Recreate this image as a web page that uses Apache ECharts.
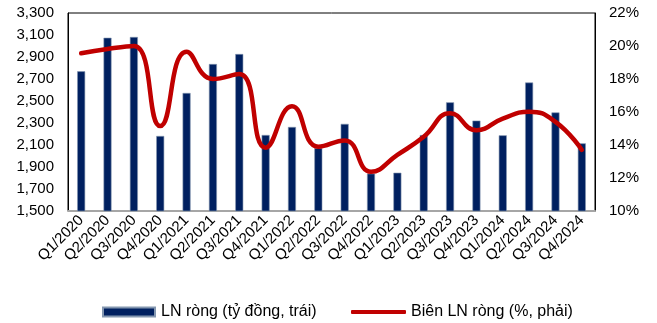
<!DOCTYPE html>
<html>
<head>
<meta charset="utf-8">
<script src="https://cdn.jsdelivr.net/npm/echarts@6/dist/echarts.min.js"></script>
<style>
  html, body { margin: 0; padding: 0; background: #fff; }
  #chart { width: 657px; height: 323px; }
</style>
</head>
<body>
<div id="chart"></div>
<script>
// Quarterly net profit (billion VND, left axis) and net margin (%, right axis)
const quarters = [
  'Q1/2020', 'Q2/2020', 'Q3/2020', 'Q4/2020',
  'Q1/2021', 'Q2/2021', 'Q3/2021', 'Q4/2021',
  'Q1/2022', 'Q2/2022', 'Q3/2022', 'Q4/2022',
  'Q1/2023', 'Q2/2023', 'Q3/2023', 'Q4/2023',
  'Q1/2024', 'Q2/2024', 'Q3/2024', 'Q4/2024'
];
const netProfit = [
  2770, 3075, 3082, 2182,
  2573, 2836, 2927, 2191,
  2264, 2072, 2292, 1840,
  1848, 2190, 2488, 2322,
  2188, 2668, 2396, 2115
];
const netMargin = [
  19.56, 19.82, 20.0, 15.15,
  19.65, 18.0, 18.3, 13.84,
  16.35, 13.9, 14.28, 12.38,
  13.4, 14.5, 15.92, 14.9,
  15.6, 16.02, 15.4, 13.7
];
const profitName = 'LN ròng (tỷ đồng, trái)';
const marginName = 'Biên LN ròng (%, phải)';

const FONT = 'Liberation Sans, Arial, sans-serif';
const chart = echarts.init(document.getElementById('chart'));

chart.setOption({
  animation: false,
  textStyle: { fontFamily: FONT, color: '#000' },
  grid: {
    left: 68, right: 62, top: 13, bottom: 112,
    show: true, borderColor: '#000', borderWidth: 1
  },
  legend: [
    {
      left: 97, top: 299,
      itemWidth: 52, itemHeight: 9,
      textStyle: { fontFamily: FONT, fontSize: 16, color: '#000', padding: [0, 0, 0, 1] },
      data: [{ name: profitName, icon: 'rect' }]
    },
    {
      left: 346, top: 299,
      itemWidth: 55, itemHeight: 4,
      textStyle: { fontFamily: FONT, fontSize: 16, color: '#000' },
      data: [{ name: marginName, icon: 'roundRect' }]
    }
  ],
  xAxis: {
    type: 'category',
    data: quarters,
    axisLine: { lineStyle: { color: '#A6A6A6', width: 2 } },
    axisTick: { show: false },
    axisLabel: {
      rotate: 45, fontSize: 15, color: '#000', fontFamily: FONT,
      interval: 0, margin: 7
    }
  },
  yAxis: [
    {
      type: 'value', min: 1500, max: 3300, interval: 200,
      axisLine: { show: true, lineStyle: { color: '#000', width: 1 } },
      axisTick: { show: false },
      splitLine: { show: false },
      axisLabel: {
        fontSize: 15, color: '#000', fontFamily: FONT, margin: 14,
        formatter: v => v.toLocaleString('en-US')
      }
    },
    {
      type: 'value', min: 10, max: 22, interval: 2,
      position: 'right',
      axisLine: { show: true, lineStyle: { color: '#000', width: 1 } },
      axisTick: { show: false },
      splitLine: { show: false },
      axisLabel: {
        fontSize: 15, color: '#000', fontFamily: FONT, margin: 14,
        formatter: '{value}%'
      }
    }
  ],
  series: [
    {
      name: profitName,
      type: 'bar',
      yAxisIndex: 0,
      data: netProfit,
      barWidth: 8,
      itemStyle: { color: '#002060', borderColor: '#8497B0', borderWidth: 0.6 }
    },
    {
      name: marginName,
      type: 'line',
      yAxisIndex: 1,
      data: netMargin,
      smooth: 0.5,
      showSymbol: false,
      symbol: 'none',
      lineStyle: { color: '#C00000', width: 4.5, cap: 'round' },
      itemStyle: { color: '#C00000' }
    }
  ]
});
</script>
</body>
</html>
